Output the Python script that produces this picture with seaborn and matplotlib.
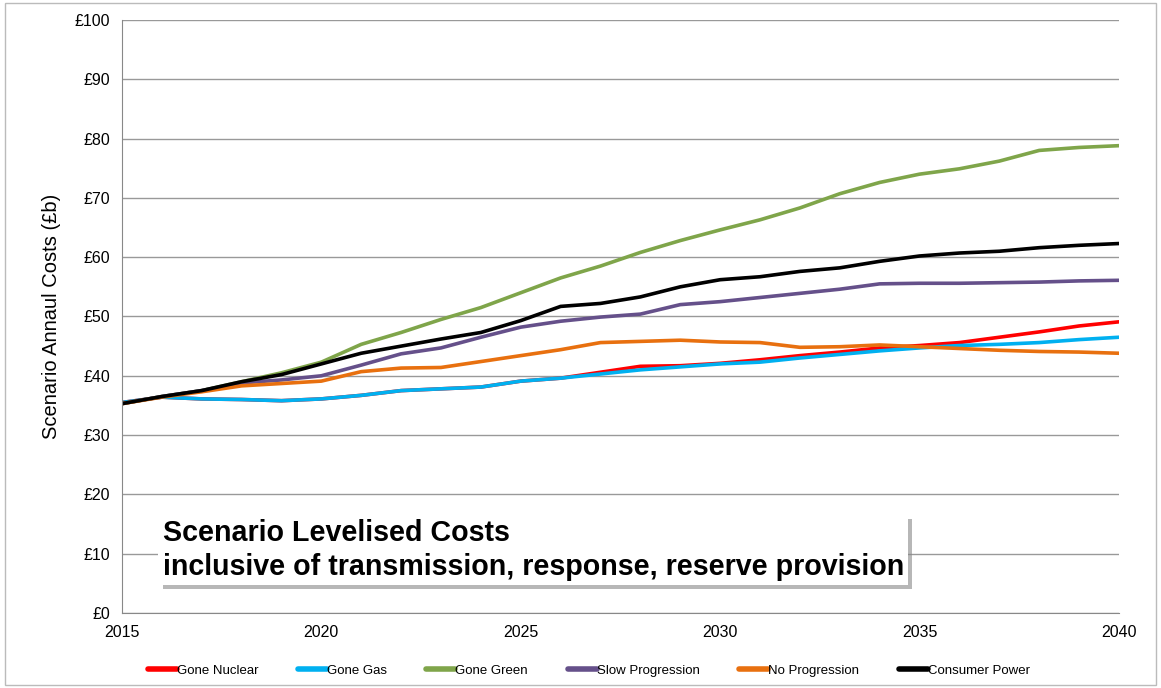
import numpy as np
import pandas as pd
import seaborn as sns
import matplotlib.pyplot as plt
import matplotlib.patheffects as pe

years = list(range(2015, 2041))

gone_nuclear = [35.5, 36.4, 36.1, 36.0, 35.8, 36.1, 36.7, 37.5, 37.8, 38.1, 39.1, 39.6,
                40.6, 41.6, 41.7, 42.1, 42.7, 43.4, 44.0, 44.7, 45.1, 45.6, 46.5, 47.4, 48.4, 49.1]
gone_gas = [35.5, 36.4, 36.1, 36.0, 35.8, 36.1, 36.7, 37.5, 37.8, 38.1, 39.1, 39.6,
            40.3, 41.0, 41.5, 42.0, 42.3, 43.0, 43.6, 44.2, 44.7, 45.1, 45.3, 45.6, 46.1, 46.5]
gone_green = [35.3, 36.5, 37.5, 39.0, 40.5, 42.3, 45.3, 47.3, 49.5, 51.5, 54.0, 56.5,
              58.5, 60.8, 62.8, 64.6, 66.3, 68.3, 70.7, 72.6, 74.0, 74.9, 76.2, 78.0, 78.5, 78.8]
slow_progression = [35.3, 36.5, 37.5, 38.8, 39.3, 40.0, 41.8, 43.7, 44.7, 46.5, 48.2, 49.2,
                    49.9, 50.4, 52.0, 52.5, 53.2, 53.9, 54.6, 55.5, 55.6, 55.6, 55.7, 55.8, 56.0, 56.1]
no_progression = [35.3, 36.4, 37.3, 38.3, 38.7, 39.1, 40.7, 41.3, 41.4, 42.4, 43.4, 44.4,
                  45.6, 45.8, 46.0, 45.7, 45.6, 44.8, 44.9, 45.2, 44.9, 44.6, 44.3, 44.1, 44.0, 43.8]
consumer_power = [35.3, 36.5, 37.5, 39.0, 40.2, 42.0, 43.8, 45.0, 46.2, 47.3, 49.3, 51.7,
                  52.2, 53.3, 55.0, 56.2, 56.7, 57.6, 58.2, 59.3, 60.2, 60.7, 61.0, 61.6, 62.0, 62.3]

scenarios = ['Gone Nuclear', 'Gone Gas', 'Gone Green', 'Slow Progression', 'No Progression', 'Consumer Power']
series = [gone_nuclear, gone_gas, gone_green, slow_progression, no_progression, consumer_power]
colors = ['#FF0000', '#00B0F0', '#7FA54A', '#65508A', '#E8700F', '#000000']
y_ticks = list(range(0, 101, 10))
y_labels = ['£' + str(v) for v in y_ticks]
x_ticks = [2015, 2020, 2025, 2030, 2035, 2040]

df = pd.DataFrame({
    'year': years * len(scenarios),
    'cost': sum(series, []),
    'scenario': sum([[s] * len(years) for s in scenarios], []),
})

sns.set_style('white')
plt.rcParams['font.family'] = ['Liberation Sans', 'DejaVu Sans']
plt.rcParams['text.color'] = 'black'
plt.rcParams['axes.labelcolor'] = 'black'
plt.rcParams['xtick.labelcolor'] = 'black'
plt.rcParams['ytick.labelcolor'] = 'black'

fig = plt.figure(figsize=(11.61, 6.88), dpi=100)
ax = fig.add_axes([0.105, 0.109, 0.8588, 0.862])

sns.lineplot(data=df, x='year', y='cost', hue='scenario', hue_order=scenarios,
             palette=dict(zip(scenarios, colors)), linewidth=2.6, ax=ax, legend=False)

ax.set_xlim(2015, 2040)
ax.set_ylim(0, 100)
ax.set_yticks(y_ticks)
ax.set_yticklabels(y_labels)
ax.set_xticks(x_ticks)
ax.tick_params(axis='both', labelsize=11.5, direction='out', length=5, color='#888888', width=1)
ax.yaxis.grid(True, color='#999999', linewidth=1)
ax.set_axisbelow(True)
for s in ['top', 'right']:
    ax.spines[s].set_visible(False)
for s in ['left', 'bottom']:
    ax.spines[s].set_color('#888888')
ax.set_xlabel('')
ax.set_ylabel('Scenario Annaul Costs (£b)', fontsize=14.5, labelpad=10)

# legend
handles = [plt.Line2D([0], [0], color=c, lw=4) for c in colors]
fig.legend(handles, scenarios, loc='center', bbox_to_anchor=(0.507, 0.025), ncol=6,
           frameon=False, handlelength=2.2, handletextpad=0.0, columnspacing=3.0,
           prop={'family': ['Liberation Sans Narrow', 'Liberation Sans'], 'size': 9.5})

t = ax.text(0.041, 0.106, 'Scenario Levelised Costs\ninclusive of transmission, response, reserve provision',
            transform=ax.transAxes, fontsize=20.6, fontweight='bold', va='center', ha='left',
            linespacing=1.25, color='black',
            bbox=dict(boxstyle='square,pad=0.15', facecolor='white', edgecolor='none'))
t.get_bbox_patch().set_path_effects([pe.SimplePatchShadow(offset=(3, -3), shadow_rgbFace='#888888', alpha=0.6),
                                     pe.Normal()])

# outer chart frame
fig.patches.append(plt.Rectangle((0.004, 0.004), 0.992, 0.992, transform=fig.transFigure,
                                 fill=False, edgecolor='#BBBBBB', linewidth=1))

fig.savefig('out.png', dpi=100)
